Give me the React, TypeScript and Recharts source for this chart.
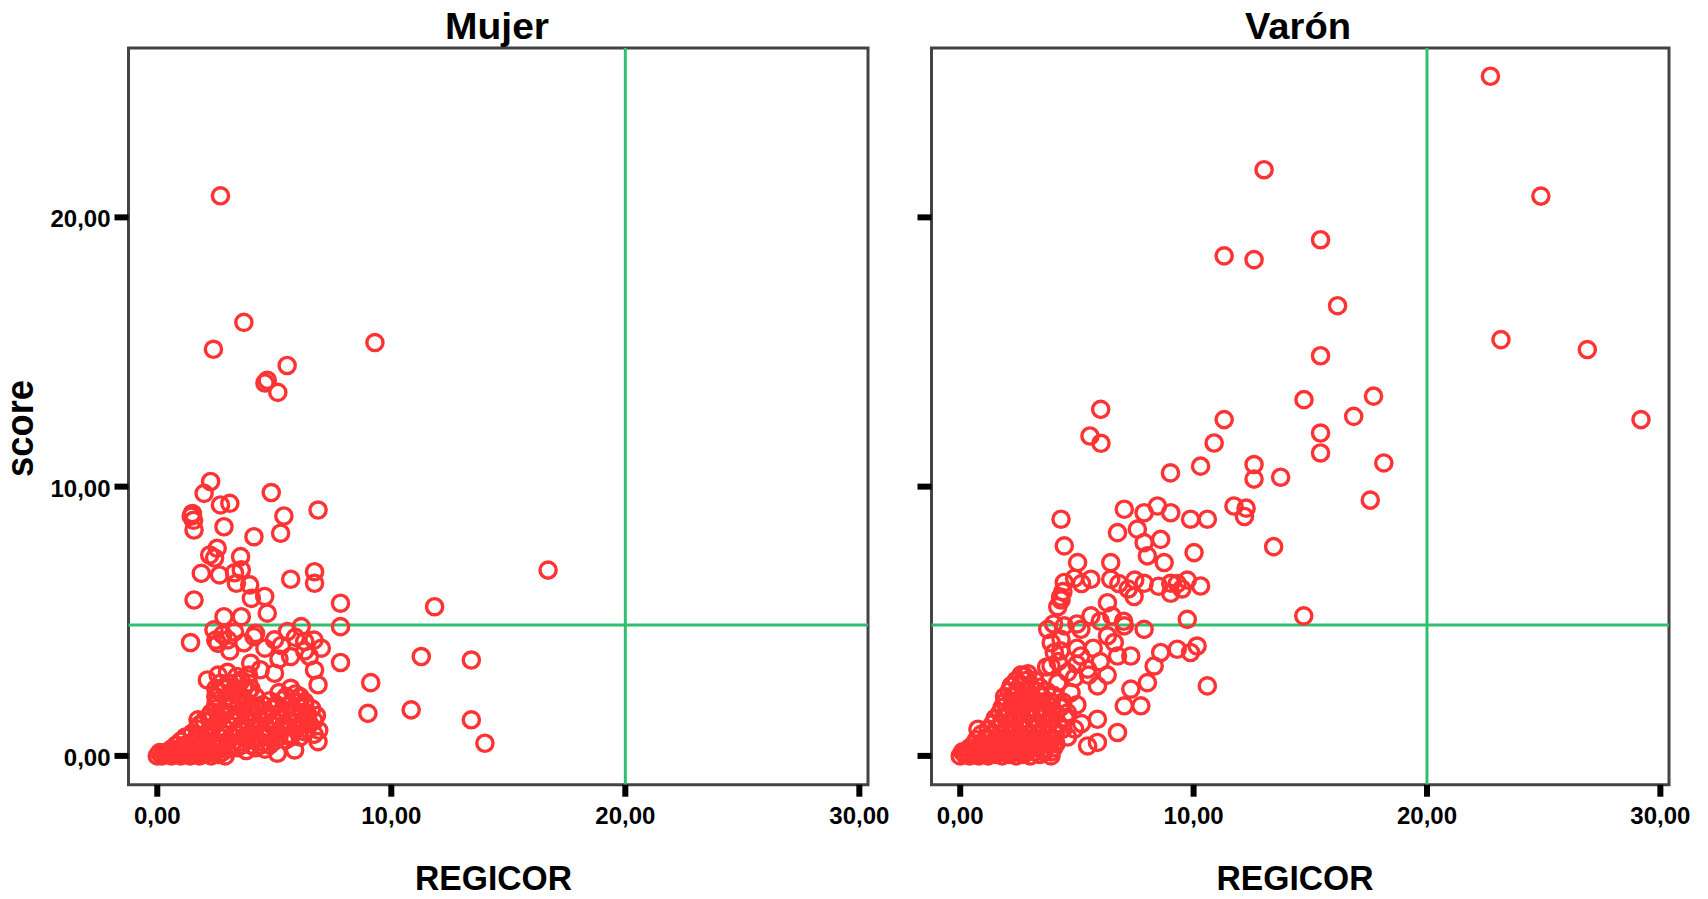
import React from 'react';
import { ScatterChart, Scatter, XAxis, YAxis, ReferenceLine, ReferenceArea } from 'recharts';

// [REGICOR, score] per patient
const mujerPoints: [number, number][] = [
  [2.7, 20.8], [3.7, 16.1], [2.4, 15.1], [9.3, 15.35], [5.55, 14.5], [4.7, 13.95], [4.6, 13.85], [5.15, 13.5],
  [2.28, 10.19], [2.0, 9.75], [3.1, 9.38], [2.7, 9.32], [4.87, 9.78], [6.87, 9.13], [1.5, 9.0], [1.45, 8.9],
  [1.55, 8.75], [1.57, 8.39], [2.85, 8.51], [5.41, 8.91], [5.27, 8.27], [4.13, 8.14], [2.56, 7.71], [2.24, 7.46],
  [2.45, 7.35], [3.56, 7.4], [1.88, 6.78], [2.66, 6.72], [3.59, 6.91], [3.38, 6.41], [3.95, 6.35], [3.3, 6.8],
  [5.7, 6.56], [6.72, 6.84], [6.72, 6.41], [1.57, 5.79], [4.02, 5.85], [4.59, 5.92], [7.83, 5.67], [11.85, 5.54],
  [16.7, 6.9], [2.85, 5.17], [3.59, 5.17], [4.7, 5.3], [6.15, 4.8], [7.83, 4.8], [2.42, 4.68], [1.42, 4.21],
  [2.59, 4.18], [3.02, 4.31], [4.13, 4.43], [5.01, 4.31], [5.56, 4.62], [6.3, 4.25], [7.01, 4.0], [5.7, 3.69],
  [3.99, 3.44], [5.01, 3.07], [6.72, 3.19], [7.83, 3.47], [11.28, 3.69], [13.42, 3.56], [2.14, 2.82], [2.88, 2.57],
  [3.59, 2.82], [5.7, 2.51], [6.87, 2.64], [9.12, 2.72], [9.0, 1.58], [10.85, 1.71], [13.42, 1.34], [14.0, 0.47],
  [6.87, 0.53], [5.87, 0.22], [5.13, 0.1], [1.74, 1.34],
  [2.5, 4.3], [2.8, 4.5], [3.3, 4.6], [3.7, 4.2], [4.2, 4.55], [4.6, 4.0], [5.3, 4.1], [5.9, 4.4],
  [6.3, 3.9], [6.7, 4.3], [6.5, 3.7], [3.1, 3.9], [4.4, 3.2], [5.2, 3.6],
  [2.6, 3.0], [3.0, 3.1], [3.4, 2.95], [3.9, 3.0], [4.0, 2.5], [6.3, 2.0], [6.8, 1.5], [6.9, 0.95],
  [2.7, 2.7], [3.1, 2.7], [3.5, 2.7], [3.9, 2.7],
  [2.5, 2.5], [2.9, 2.5], [3.3, 2.5], [3.7, 2.5],
  [2.7, 2.35], [3.3, 2.3], [3.9, 2.4], [5.2, 2.35], [5.9, 2.3],
  [2.5, 2.2], [3.0, 2.2], [3.6, 2.2], [4.2, 2.2], [5.5, 2.2], [6.1, 2.2],
  [2.6, 2.05], [3.2, 2.1], [3.8, 2.0], [4.8, 2.05], [5.4, 2.1], [6.0, 2.0],
  [2.5, 1.9], [3.0, 1.9], [3.5, 1.9], [4.0, 1.9], [4.5, 1.9], [5.1, 1.9], [5.7, 1.9], [6.3, 1.9],
  [2.5, 1.75], [3.1, 1.8], [3.7, 1.7], [4.3, 1.8], [4.9, 1.75], [5.5, 1.7], [6.1, 1.8], [6.6, 1.75],
  [2.3, 1.6], [2.9, 1.6], [3.5, 1.6], [4.1, 1.6], [4.7, 1.6], [5.3, 1.6], [5.9, 1.6], [6.4, 1.6],
  [2.2, 1.45], [2.8, 1.5], [3.4, 1.4], [4.0, 1.5], [4.6, 1.45], [5.2, 1.4], [5.8, 1.5], [6.4, 1.45],
  [2.0, 1.3], [2.6, 1.3], [3.2, 1.3], [3.8, 1.3], [4.4, 1.3], [5.0, 1.3], [5.6, 1.3], [6.2, 1.3], [6.7, 1.3],
  [1.8, 1.15], [2.4, 1.1], [3.0, 1.2], [3.6, 1.15], [4.2, 1.1], [4.8, 1.2], [5.4, 1.15], [6.0, 1.1], [6.5, 1.2],
  [1.7, 1.0], [2.3, 1.0], [2.9, 1.0], [3.5, 1.0], [4.1, 1.0], [4.7, 1.0], [5.3, 1.0], [5.9, 1.0], [6.4, 1.0],
  [1.5, 0.85], [2.1, 0.8], [2.7, 0.9], [3.3, 0.85], [3.9, 0.8], [4.5, 0.9], [5.1, 0.85], [5.7, 0.8], [6.3, 0.9], [6.7, 0.8],
  [1.2, 0.7], [1.7, 0.7], [2.2, 0.7], [2.7, 0.7], [3.2, 0.7], [3.7, 0.7], [4.2, 0.7], [4.7, 0.7], [5.2, 0.7], [5.7, 0.7], [6.1, 0.7],
  [1.0, 0.55], [1.5, 0.5], [2.0, 0.6], [2.5, 0.5], [3.0, 0.55], [3.5, 0.5], [4.0, 0.6], [4.5, 0.5], [5.0, 0.55], [5.5, 0.6],
  [0.8, 0.4], [1.2, 0.4], [1.6, 0.4], [2.0, 0.4], [2.4, 0.4], [2.8, 0.4], [3.2, 0.4], [3.6, 0.4], [4.0, 0.4], [4.4, 0.4], [4.8, 0.4],
  [0.6, 0.25], [1.0, 0.3], [1.4, 0.25], [1.8, 0.3], [2.2, 0.2], [2.6, 0.3], [3.0, 0.25], [3.4, 0.3], [3.8, 0.2], [4.2, 0.3], [4.6, 0.25],
  [0.1, 0.12], [0.3, 0.12], [0.5, 0.12], [0.7, 0.12], [0.9, 0.12], [1.1, 0.12], [1.3, 0.12], [1.5, 0.12], [1.7, 0.12],
  [1.9, 0.12], [2.1, 0.12], [2.45, 0.12], [2.75, 0.12],
  [0, 0], [0.2, 0], [0.4, 0.05], [0.6, 0], [0.8, 0.05], [1.0, 0], [1.2, 0.05], [1.4, 0], [1.6, 0.1], [1.8, 0],
  [2.0, 0.05], [2.3, 0], [2.6, 0.05], [2.9, 0],
];

const varonPoints: [number, number][] = [
  [22.72, 25.24], [13.02, 21.77], [24.88, 20.79], [15.44, 19.17], [11.31, 18.57], [12.59, 18.43], [16.17, 16.72],
  [23.17, 15.46], [26.87, 15.09], [15.44, 14.86], [14.73, 13.23], [17.71, 13.36], [16.86, 12.61], [11.31, 12.49],
  [10.88, 11.62], [15.44, 11.99], [15.44, 11.25], [29.17, 12.49], [9.01, 10.51], [10.3, 10.76], [12.59, 10.82],
  [12.59, 10.28], [13.73, 10.35], [18.15, 10.88],
  [6.02, 12.87], [5.56, 11.88], [6.03, 11.61], [17.57, 9.5], [4.32, 8.79], [7.03, 9.16], [7.88, 9.03], [8.45, 9.28],
  [9.02, 9.03], [9.87, 8.79], [10.59, 8.79], [11.73, 9.28], [12.25, 9.2], [12.18, 8.89], [6.74, 8.29], [7.59, 8.42],
  [13.43, 7.77], [4.46, 7.8], [7.88, 7.92], [8.59, 8.04], [8.02, 7.43], [8.74, 7.18], [10.02, 7.55], [5.03, 7.18],
  [6.45, 7.18], [4.46, 6.44], [5.6, 6.56], [6.45, 6.56], [7.48, 6.53], [7.88, 6.41], [7.45, 5.92], [9.02, 6.41],
  [9.73, 6.53], [10.3, 6.31], [9.02, 6.04], [4.32, 5.79], [4.18, 5.54], [6.31, 5.69], [5.6, 5.2], [9.73, 5.07],
  [14.72, 5.2], [3.75, 4.7], [4.46, 4.83], [5.17, 4.7], [6.31, 4.46], [7.03, 4.83], [7.88, 4.7], [4.32, 4.33],
  [6.6, 4.21], [8.59, 3.84], [9.3, 3.96], [10.15, 4.08], [9.87, 3.84], [4.03, 3.84], [5.17, 3.71], [6.74, 3.71],
  [7.31, 3.71], [3.89, 3.34], [5.46, 3.22], [8.31, 3.34], [2.75, 2.97], [4.18, 2.72], [5.88, 2.6], [8.02, 2.72],
  [7.31, 2.48], [10.59, 2.6], [2.18, 2.6], [4.75, 2.35], [7.03, 1.86], [7.74, 1.86], [5.88, 1.36], [6.74, 0.87],
  [5.46, 0.37], [5.88, 0.5], [3.89, 0], [0.76, 0.99],
  [4.9, 6.6], [5.2, 6.4], [6.8, 6.4], [7.2, 6.2], [8.5, 6.3], [9.3, 6.4], [9.5, 6.2], [4.4, 6.1], [4.3, 5.9],
  [6.5, 5.2], [7.0, 5.0], [6.0, 5.0], [5.0, 4.9], [4.0, 4.9],
  [3.7, 3.3], [4.2, 3.5], [4.6, 3.1], [5.0, 3.4], [4.9, 2.9], [5.5, 3.0], [4.3, 3.9], [5.0, 4.0], [3.9, 4.2],
  [5.7, 4.0], [6.0, 3.5], [6.3, 3.0],
  [4.6, 1.6], [5.0, 1.9], [4.4, 2.0], [5.2, 1.2], [4.9, 1.0], [4.6, 0.7],
  [2.6, 3.0], [2.9, 3.05],
  [2.4, 2.8], [2.8, 2.8], [3.2, 2.8],
  [2.2, 2.6], [2.6, 2.65], [3.0, 2.6], [3.4, 2.55],
  [2.1, 2.4], [2.5, 2.4], [2.9, 2.4], [3.3, 2.4], [3.7, 2.4],
  [1.9, 2.2], [2.3, 2.25], [2.7, 2.2], [3.1, 2.15], [3.5, 2.2], [4.0, 2.25],
  [1.9, 2.0], [2.3, 2.0], [2.7, 2.0], [3.1, 2.0], [3.5, 2.0], [3.9, 2.0],
  [1.8, 1.8], [2.2, 1.85], [2.6, 1.8], [3.0, 1.75], [3.4, 1.8], [3.8, 1.85], [4.3, 1.8],
  [1.7, 1.6], [2.1, 1.6], [2.5, 1.6], [2.9, 1.6], [3.3, 1.6], [3.7, 1.6], [4.1, 1.6],
  [1.5, 1.4], [1.9, 1.45], [2.3, 1.4], [2.7, 1.35], [3.1, 1.4], [3.5, 1.45], [3.9, 1.4], [4.5, 1.4],
  [1.4, 1.2], [1.8, 1.2], [2.2, 1.2], [2.6, 1.2], [3.0, 1.2], [3.4, 1.2], [3.8, 1.2], [4.2, 1.2],
  [1.2, 1.0], [1.6, 1.05], [2.0, 1.0], [2.4, 0.95], [2.8, 1.0], [3.2, 1.05], [3.6, 1.0], [4.0, 0.95], [4.4, 1.0],
  [0.9, 0.8], [1.3, 0.8], [1.7, 0.8], [2.1, 0.8], [2.5, 0.8], [2.9, 0.8], [3.3, 0.8], [3.7, 0.8], [4.1, 0.8],
  [0.7, 0.6], [1.1, 0.65], [1.5, 0.6], [1.9, 0.55], [2.3, 0.6], [2.7, 0.65], [3.1, 0.6], [3.5, 0.55], [3.9, 0.6],
  [0.6, 0.45], [1.0, 0.45], [1.4, 0.45], [1.8, 0.45], [2.2, 0.45], [2.6, 0.45], [3.0, 0.45], [3.4, 0.45], [3.8, 0.45], [4.1, 0.45],
  [0.4, 0.3], [0.8, 0.3], [1.2, 0.35], [1.6, 0.3], [2.0, 0.25], [2.4, 0.3], [2.8, 0.35], [3.2, 0.3], [3.6, 0.25], [4.0, 0.3],
  [0.1, 0.15], [0.3, 0.15], [0.5, 0.15], [0.7, 0.15], [0.9, 0.15], [1.1, 0.15], [1.35, 0.15], [1.65, 0.15],
  [1.95, 0.15], [2.25, 0.15], [2.55, 0.15], [2.85, 0.15], [3.2, 0.15], [3.6, 0.15], [3.9, 0.15],
  [0, 0], [0.2, 0.05], [0.4, 0], [0.6, 0.05], [0.8, 0], [1.0, 0.05], [1.2, 0], [1.5, 0.05], [1.8, 0], [2.1, 0.05],
  [2.4, 0], [2.7, 0.05], [3.0, 0], [3.4, 0.05],
];

const panelTitles = ['Mujer', 'Varón'];
const xTicks = [0, 10, 20, 30];
const yTicks = [0, 10, 20];
const regicorCut = 20;
const scoreCut = 4.86;

const X_DOMAIN: [number, number] = [-1.23, 30.37];
const Y_DOMAIN: [number, number] = [-1.07, 26.29];
const FONT = '"Liberation Sans", Arial, sans-serif';
const RED = '#ff3333';
const GREEN = '#30bf70';
const FRAME = '#444444';

const fmt = (v: number) => v.toFixed(2).replace('.', ',');

const HollowDot = (props: any) => (
  <circle cx={props.cx} cy={props.cy} r={8.1} fill="none" stroke={RED} strokeWidth={3.4} />
);

const XTick = (props: any) => (
  <text x={props.x} y={props.y} dy={27} textAnchor="middle" fontFamily={FONT} fontWeight="bold" fontSize={24} fill="#000">
    {fmt(props.payload.value)}
  </text>
);

const YTick = (props: any) => (
  <text x={props.x - 4} y={props.y} dy={10} textAnchor="end" fontFamily={FONT} fontWeight="bold" fontSize={24} fill="#000">
    {fmt(props.payload.value)}
  </text>
);

const NoTick = () => <g />;

interface PanelProps {
  points: [number, number][];
  left: number;
  width: number;
  axisWidth: number;
  rightMargin: number;
  showYLabels: boolean;
}

const Panel: React.FC<PanelProps> = ({ points, left, width, axisWidth, rightMargin, showYLabels }) => {
  const data = points.map(([x, y]) => ({ x, y }));
  return (
    <div style={{ position: 'absolute', left, top: 0 }}>
      <ScatterChart width={width} height={899} margin={{ top: 48, right: rightMargin, bottom: 0, left: 0 }}>
        <ReferenceArea
          x1={X_DOMAIN[0]} x2={X_DOMAIN[1]} y1={Y_DOMAIN[0]} y2={Y_DOMAIN[1]}
          fill="none" stroke={FRAME} strokeWidth={3} fillOpacity={0} strokeOpacity={1}
        />
        <XAxis
          type="number" dataKey="x" domain={X_DOMAIN} ticks={xTicks} allowDataOverflow
          height={114.3} axisLine={false} tickSize={12} tickMargin={0}
          tickLine={{ stroke: '#000', strokeWidth: 6 }} tick={XTick}
        />
        <YAxis
          type="number" dataKey="y" domain={Y_DOMAIN} ticks={yTicks} allowDataOverflow
          width={axisWidth} axisLine={false} tickSize={14} tickMargin={0}
          tickLine={{ stroke: '#000', strokeWidth: 6 }} tick={showYLabels ? YTick : NoTick}
        />
        <Scatter data={data} shape={HollowDot} isAnimationActive={false} />
        <ReferenceLine y={scoreCut} stroke={GREEN} strokeWidth={3} />
        <ReferenceLine x={regicorCut} stroke={GREEN} strokeWidth={3} />
      </ScatterChart>
    </div>
  );
};

const textStyle = { fontFamily: FONT, fontWeight: 'bold' as const, fill: '#000' };

export default function App() {
  return (
    <div style={{ position: 'absolute', left: 0, top: 0, width: 1708, height: 899, background: '#fff', overflow: 'hidden' }}>
      <Panel points={mujerPoints} left={0} width={900} axisWidth={128.5} rightMargin={32} showYLabels />
      <Panel points={varonPoints} left={880} width={828} axisWidth={51.5} rightMargin={39} showYLabels={false} />
      <svg width={1708} height={899} style={{ position: 'absolute', left: 0, top: 0, pointerEvents: 'none' }}>
        <text x={497} y={39} textAnchor="middle" fontSize={36} textLength={104} lengthAdjust="spacingAndGlyphs" {...textStyle}>
          {panelTitles[0]}
        </text>
        <text x={1298} y={39} textAnchor="middle" fontSize={36} textLength={106} lengthAdjust="spacingAndGlyphs" {...textStyle}>
          {panelTitles[1]}
        </text>
        <text x={493.5} y={890} textAnchor="middle" fontSize={35} textLength={157} lengthAdjust="spacingAndGlyphs" {...textStyle}>
          REGICOR
        </text>
        <text x={1295} y={890} textAnchor="middle" fontSize={35} textLength={157} lengthAdjust="spacingAndGlyphs" {...textStyle}>
          REGICOR
        </text>
        <text transform="translate(33,428.5) rotate(-90)" textAnchor="middle" fontSize={38} textLength={97} lengthAdjust="spacingAndGlyphs" {...textStyle}>
          score
        </text>
      </svg>
    </div>
  );
}
